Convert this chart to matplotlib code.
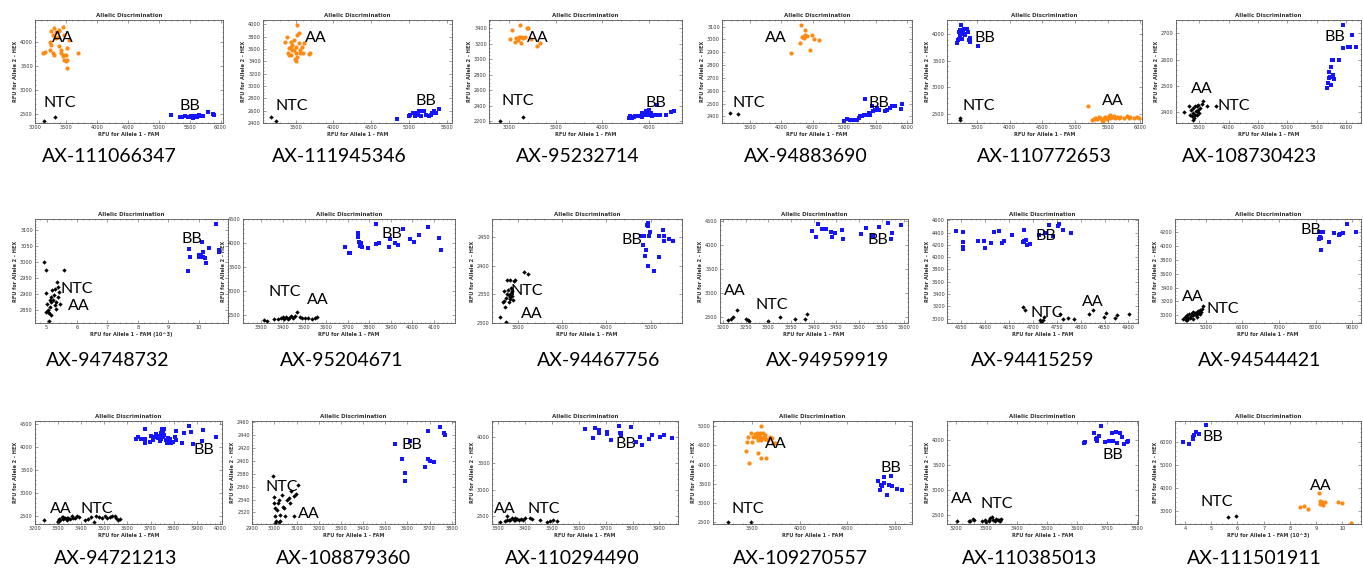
import matplotlib.pyplot as plt
import numpy as np

plt.rcParams['font.family'] = ['Lato', 'DejaVu Sans']

# SNP marker names, row by row
markers = ["AX-111066347", "AX-111945346", "AX-95232714", "AX-94883690", "AX-110772653", "AX-108730423",
           "AX-94748732", "AX-95204671", "AX-94467756", "AX-94959919", "AX-94415259", "AX-94544421",
           "AX-94721213", "AX-108879360", "AX-110294490", "AX-109270557", "AX-110385013", "AX-111501911"]

# (FAM, HEX) readings, estimated from the plots
p01_aa = [(3130, 3760), (3160, 3790), (3260, 4210), (3290, 4140), (3310, 4280), (3340, 4190), (3370, 4100), (3390, 4240),
          (3240, 4000), (3260, 3930), (3240, 3830), (3290, 3760), (3310, 3720), (3340, 4070), (3390, 3900), (3420, 3830),
          (3420, 3760), (3450, 4310), (3470, 4140), (3470, 3720), (3500, 3720), (3520, 3860), (3520, 3620), (3450, 3690),
          (3470, 3620), (3500, 3590), (3520, 3450), (3690, 3770), (3550, 4030), (3390, 4210)]
p01_bb = [(5200, 2480), (5350, 2440), (5380, 2430), (5420, 2450), (5470, 2440), (5500, 2430), (5530, 2460), (5560, 2420),
          (5590, 2450), (5620, 2440), (5650, 2470), (5690, 2450), (5720, 2460), (5800, 2540), (5880, 2500), (5890, 2480)]
p01_blk = [(3150, 2340), (3320, 2440)]

p02_aa = [(3362, 3719), (3392, 3789), (3414, 3610), (3435, 3638), (3457, 3583), (3405, 3529), (3435, 3502), (3478, 3583),
          (3500, 3638), (3500, 3529), (3491, 3432), (3500, 3405), (3522, 3827), (3522, 3989), (3543, 3854), (3543, 3692),
          (3565, 3583), (3565, 3540), (3586, 3638), (3608, 3692), (3595, 3540), (3694, 3540), (3672, 3518), (3414, 3502),
          (3522, 3475), (3457, 3665), (3435, 3719), (3478, 3746)]
p02_bb = [(4836, 2465), (5000, 2508), (5017, 2535), (5052, 2562), (5073, 2519), (5095, 2562), (5138, 2589), (5160, 2508),
          (5181, 2589), (5203, 2589), (5267, 2508), (5289, 2535), (5310, 2562), (5332, 2589), (5353, 2562), (5396, 2627),
          (5224, 2535), (5116, 2535)]
p02_blk = [(3177, 2497), (3241, 2427)]

p03_aa = [(3007, 3259), (3036, 3379), (3061, 3229), (3079, 3272), (3097, 3250), (3108, 3284), (3122, 3443), (3133, 3284),
          (3133, 3207), (3151, 3272), (3169, 3293), (3187, 3400), (3205, 3400), (3331, 3216), (3302, 3173), (3230, 3259)]
p03_bb = [(4285, 2243), (4303, 2264), (4321, 2243), (4339, 2256), (4357, 2264), (4393, 2273), (4429, 2256), (4440, 2286),
          (4465, 2277), (4483, 2307), (4501, 2286), (4501, 2341), (4519, 2307), (4537, 2264), (4573, 2286), (4591, 2414),
          (4620, 2286), (4681, 2286), (4735, 2316), (4771, 2328), (4465, 2328), (4429, 2307), (4537, 2286)]
p03_blk = [(2899, 2200), (3144, 2256)]

p04_aa = [(4156, 2893), (4304, 2970), (4315, 3113), (4331, 3022), (4357, 3027), (4368, 3009), (4383, 3074), (4383, 3035),
          (4410, 3027), (4452, 2919), (4489, 3035), (4526, 3002), (4595, 2996)]
p04_bb = [(5002, 2361), (5045, 2379), (5087, 2374), (5124, 2369), (5161, 2369), (5203, 2374), (5230, 2387), (5256, 2400),
          (5283, 2400), (5309, 2413), (5336, 2537), (5362, 2413), (5389, 2426), (5415, 2413), (5441, 2478), (5457, 2439),
          (5494, 2452), (5521, 2465), (5547, 2452), (5653, 2439), (5679, 2447), (5722, 2465), (5759, 2483), (5812, 2478),
          (5902, 2457), (5918, 2496)]
p04_blk = [(3183, 2426), (3315, 2418)]

p05_aa = [(5194, 2644), (5260, 2394), (5286, 2406), (5311, 2425), (5337, 2406), (5362, 2444), (5388, 2425), (5413, 2394),
          (5439, 2425), (5464, 2444), (5490, 2406), (5515, 2456), (5540, 2425), (5566, 2444), (5592, 2469), (5617, 2425),
          (5643, 2444), (5668, 2425), (5694, 2444), (5745, 2425), (5796, 2456), (5821, 2425), (5847, 2444), (5898, 2425),
          (5949, 2444), (5974, 2425), (5429, 2363), (5531, 2488)]
p05_bb = [(3194, 3831), (3204, 3894), (3219, 4050), (3235, 4081), (3255, 4175), (3270, 3906), (3286, 4019), (3306, 4006),
          (3321, 3988), (3347, 4094), (3357, 4050), (3372, 3894), (3388, 3925), (3398, 3863), (3510, 3781), (3219, 3906),
          (3245, 3988), (3296, 4094)]
p05_blk = [(3235, 2425), (3235, 2394)]

p06_bb = [(5673, 2491), (5690, 2510), (5707, 2529), (5718, 2551), (5730, 2533), (5747, 2573), (5764, 2599), (5747, 2504),
          (5775, 2542), (5786, 2599), (5803, 2525), (5888, 2599), (5956, 2643), (5956, 2732), (6030, 2649), (6070, 2649),
          (6104, 2694), (6172, 2649)]
p06_blk = [(3240, 2400), (3330, 2424), (3342, 2390), (3353, 2409), (3370, 2384), (3387, 2415), (3398, 2396), (3409, 2377),
           (3426, 2424), (3443, 2403), (3455, 2390), (3466, 2422), (3483, 2409), (3500, 2396), (3511, 2415), (3540, 2432),
           (3568, 2441), (3625, 2424), (3783, 2424), (3398, 2368), (3455, 2403), (3426, 2390), (3483, 2428)]

p07_bb = [(9.64, 2974), (9.69, 3041), (9.72, 3018), (10.00, 3016), (10.08, 3020), (10.11, 3065), (10.13, 3034), (10.15, 3016),
          (10.19, 3013), (10.24, 2997), (10.33, 3044), (10.55, 3121), (10.66, 3039), (10.68, 3031), (10.02, 3023)]
p07_blk = [(4.91, 3000), (4.97, 2976), (4.99, 2905), (5.02, 2871), (5.05, 2845), (5.08, 2840), (5.10, 2861), (5.13, 2876),
           (5.16, 2892), (5.19, 2913), (5.21, 2882), (5.23, 2897), (5.27, 2918), (5.30, 2855), (5.32, 2876), (5.34, 2939),
           (5.38, 2924), (5.41, 2908), (5.43, 2871), (5.08, 2816), (4.99, 2845), (5.16, 2834), (5.56, 2976), (5.27, 2866),
           (5.38, 2892), (5.10, 2882), (5.05, 2852)]

p08_bb = [(3687, 3909), (3706, 3796), (3709, 3782), (3746, 4120), (3750, 4204), (3754, 4028), (3757, 3937), (3766, 3909),
          (3793, 3888), (3829, 3979), (3832, 4401), (3845, 3993), (3892, 3909), (3919, 3993), (3935, 3951), (3958, 4289),
          (3987, 4078), (4009, 4028), (4029, 4169), (4072, 4331), (4125, 4099), (4132, 3852), (3761, 4007), (3895, 4078)]
p08_blk = [(3313, 2394), (3328, 2366), (3360, 2416), (3376, 2416), (3391, 2437), (3404, 2416), (3415, 2451), (3426, 2437),
           (3439, 2465), (3446, 2437), (3457, 2465), (3467, 2549), (3478, 2451), (3489, 2437), (3502, 2437), (3517, 2437),
           (3533, 2416), (3549, 2437), (3557, 2451), (3423, 2416), (3399, 2451)]

p09_bb = [(4902, 2452), (4914, 2436), (4940, 2416), (4951, 2427), (4959, 2470), (4966, 2468), (4966, 2399), (4970, 2474),
          (4978, 2451), (4996, 2459), (5034, 2390), (5090, 2451), (5094, 2414), (5139, 2462), (5147, 2442), (5147, 2452),
          (5203, 2446), (5252, 2442), (4929, 2452)]
p09_blk = [(3304, 2310), (3335, 2337), (3350, 2339), (3361, 2327), (3372, 2344), (3380, 2374), (3387, 2358), (3398, 2349),
           (3410, 2342), (3417, 2346), (3425, 2352), (3436, 2356), (3447, 2340), (3372, 2302), (3350, 2356), (3398, 2337),
           (3425, 2361), (3455, 2373), (3474, 2374), (3575, 2389), (3613, 2385), (3410, 2374), (3380, 2350), (3436, 2347)]

p10_bb = [(3397, 4287), (3406, 4167), (3409, 4429), (3419, 4337), (3428, 4323), (3439, 4266), (3441, 4167), (3446, 4252),
          (3463, 4309), (3465, 4124), (3505, 4216), (3515, 4358), (3544, 4379), (3564, 4450), (3571, 4124), (3573, 4237),
          (3593, 4408), (3531, 4181)]
p10_blk = [(3211, 2443), (3218, 2465), (3222, 2493), (3231, 2635), (3251, 2465), (3255, 2443), (3257, 2408), (3299, 2422),
           (3326, 2493), (3358, 2465), (3380, 2465), (3384, 2550)]

p11_bb = [(4539, 4420), (4553, 4403), (4553, 4240), (4553, 4174), (4553, 4130), (4584, 4272), (4597, 4256), (4600, 4158),
          (4612, 4229), (4619, 4409), (4628, 4431), (4635, 4229), (4640, 4256), (4656, 4365), (4681, 4436), (4680, 4240),
          (4686, 4283), (4687, 4201), (4694, 4218), (4713, 4365), (4725, 4393), (4734, 4529), (4741, 4349), (4753, 4513),
          (4755, 4545), (4763, 4436), (4779, 4393), (4681, 4256)]
p11_blk = [(4683, 3137), (4715, 2984), (4716, 2945), (4723, 3027), (4757, 3082), (4762, 3000), (4774, 3016), (4786, 3000),
           (4818, 3082), (4826, 3147), (4848, 3027), (4853, 3093), (4871, 3016), (4875, 3055), (4901, 3071), (4720, 2973),
           (4680, 3191)]

p12_bb = [(8109, 4200), (8109, 4102), (8127, 4132), (8154, 4117), (8154, 3946), (8218, 4200), (8363, 4068), (8518, 4190),
          (8636, 4166), (8673, 4180), (8745, 4190), (8855, 4327), (9109, 4200)]
p12_blk = [(4382, 2951), (4427, 2976), (4455, 2937), (4473, 3000), (4518, 2966), (4545, 3024), (4582, 2985), (4609, 3034),
           (4636, 3000), (4655, 3049), (4673, 3015), (4700, 3034), (4727, 3000), (4745, 3049), (4764, 3024), (4791, 3063),
           (4818, 3034), (4836, 3073), (4855, 3049), (4882, 3098), (4909, 3132), (4655, 2951), (4564, 2966), (4473, 2927),
           (4745, 2976), (4836, 3024)]

p13_bb = [(3638, 4176), (3645, 4233), (3660, 4176), (3674, 4089), (3674, 4392), (3678, 4176), (3696, 4125), (3703, 4248),
          (3710, 4161), (3717, 4233), (3724, 4291), (3732, 4197), (3739, 4248), (3742, 4147), (3746, 4320), (3750, 4392),
          (3753, 4233), (3760, 4269), (3760, 4392), (3768, 4161), (3771, 4089), (3775, 4197), (3779, 4147), (3782, 4125),
          (3785, 4176), (3789, 4089), (3796, 4125), (3804, 4233), (3811, 4161), (3811, 4363), (3837, 4089), (3847, 4320),
          (3866, 4464), (3876, 4341), (3886, 4075), (3923, 4147), (3929, 4377), (3984, 4233), (3756, 4320), (3746, 4176)]
p13_blk = [(3238, 2413), (3300, 2370), (3304, 2442), (3307, 2413), (3314, 2486), (3322, 2442), (3329, 2464), (3336, 2428),
           (3343, 2464), (3350, 2442), (3358, 2500), (3365, 2464), (3372, 2464), (3382, 2514), (3391, 2486), (3415, 2413),
           (3430, 2442), (3444, 2486), (3454, 2370), (3465, 2514), (3477, 2486), (3491, 2464), (3501, 2500), (3512, 2464),
           (3523, 2486), (3535, 2514), (3545, 2500), (3552, 2464), (3559, 2428), (3566, 2442), (3300, 2392), (3319, 2478),
           (3336, 2464)]

p14_bb = [(3545, 2426), (3575, 2403), (3590, 2382), (3590, 2369), (3613, 2431), (3680, 2391), (3691, 2447), (3692, 2403),
          (3700, 2400), (3748, 2452), (3766, 2443), (3770, 2441), (3718, 2398)]
p14_blk = [(2994, 2377), (2997, 2344), (3000, 2334), (3005, 2314), (3005, 2327), (3009, 2306), (3012, 2323), (3015, 2334),
           (3020, 2339), (3024, 2316), (3027, 2306), (3035, 2347), (3039, 2329), (3045, 2327), (3050, 2315), (3057, 2339),
           (3065, 2342), (3072, 2334), (3075, 2353), (3087, 2345), (3099, 2349), (3087, 2315), (3105, 2362), (3005, 2304),
           (3020, 2305)]

p15_bb = [(3624, 4152), (3654, 3981), (3661, 4171), (3677, 4140), (3677, 4089), (3704, 4108), (3704, 4064), (3720, 3949),
          (3751, 4216), (3753, 4089), (3757, 4025), (3759, 4089), (3793, 4191), (3813, 3917), (3827, 4000), (3834, 3854),
          (3862, 3962), (3871, 4044), (3901, 4013), (3916, 4044), (3948, 3981), (3677, 4127), (3756, 4064)]
p15_blk = [(3309, 2373), (3327, 2392), (3333, 2411), (3343, 2424), (3352, 2456), (3358, 2411), (3364, 2456), (3370, 2437),
           (3377, 2424), (3385, 2437), (3393, 2424), (3401, 2456), (3420, 2456), (3426, 2437), (3457, 2424), (3482, 2373),
           (3494, 2392), (3506, 2411), (3519, 2392), (3333, 2500), (3346, 2411), (3364, 2424)]

p16_aa = [(3437, 4362), (3444, 4595), (3454, 4707), (3465, 4035), (3489, 4810), (3500, 4595), (3507, 4724), (3525, 4793),
          (3535, 4767), (3542, 4724), (3549, 4828), (3560, 4310), (3570, 4767), (3577, 4724), (3584, 4810), (3595, 5000),
          (3595, 4164), (3606, 4681), (3613, 4828), (3620, 4724), (3630, 4767), (3641, 4164), (3648, 4655), (3665, 4638),
          (3683, 4724), (3701, 4681), (3718, 4552), (3736, 4569), (3560, 4638), (3595, 4638), (3630, 4655)]
p16_bb = [(4827, 3560), (4838, 3345), (4852, 3474), (4862, 3431), (4880, 3672), (4887, 3517), (4922, 3216), (4933, 3474),
          (4957, 3707), (4968, 3431), (5021, 3362), (5074, 3328)]
p16_blk = [(3243, 2500), (3489, 2500)]

p17_bb = [(3623, 3947), (3626, 3967), (3656, 4133), (3662, 4013), (3665, 3987), (3673, 4080), (3678, 4280), (3692, 3967),
          (3706, 3987), (3717, 4147), (3720, 3987), (3728, 4160), (3733, 3933), (3744, 4147), (3750, 4053), (3755, 3920),
          (3766, 3967), (3769, 3987), (3665, 4033)]
p17_blk = [(3202, 2380), (3241, 2380), (3246, 2367), (3255, 2413), (3259, 2400), (3285, 2367), (3296, 2387), (3299, 2347),
           (3307, 2400), (3312, 2433), (3318, 2447), (3329, 2380), (3332, 2413), (3337, 2387), (3340, 2400), (3343, 2380),
           (3345, 2400), (3348, 2413), (3307, 2367), (3323, 2387)]

p18_aa = [(8.37, 3180), (8.52, 3240), (8.68, 3090), (9.10, 3810), (9.13, 3450), (9.15, 3300), (9.23, 3405), (9.28, 3255),
          (9.32, 3405), (9.82, 3405), (9.99, 3360), (10.33, 2505)]
p18_bb = [(3.94, 6000), (4.16, 5880), (4.29, 6180), (4.34, 6300), (4.42, 6405), (4.54, 6330), (4.80, 6705), (4.29, 6105)]
p18_blk = [(5.65, 2760), (5.94, 2790)]

# axis ranges and ticks per panel
xlims = [(3000, 6040), (3069, 5569), (2784, 4857), (3061, 6079), (3041, 6026), (3104, 6255),
         (4.62, 10.96), (3215, 4197), (3211, 5353), (3193, 3608), (4520, 4920), (4155, 9245),
         (3199, 4010), (2899, 3815), (3278, 3969), (3085, 5180), (3169, 3802), (3.62, 10.71)]
ylims = [(2306, 4449), (2400, 4070), (2179, 3507), (2348, 3152), (2331, 4269), (2358, 2751),
         (2810, 3136), (2324, 4500), (2300, 2481), (2372, 4535), (2929, 4622), (2888, 4395),
         (2334, 4572), (2302, 2462), (2344, 4311), (2457, 5129), (2315, 4380), (2460, 6885)]
xsteps = [500, 500, 500, 500, 500, 500, 1, 100, 500, 50, 50, 1000, 100, 100, 100, 500, 100, 1]
ysteps = [500, 200, 200, 100, 500, 100, 50, 500, 50, 500, 200, 200, 500, 20, 500, 500, 500, 1000]

# genotype label positions (data coords)
calls = [
    [("AA", 3450, 4070), ("NTC", 3395, 2722), ("BB", 5500, 2650)],
    [("AA", 3767, 3773), ("NTC", 3448, 2681), ("BB", 5224, 2751)],
    [("AA", 3313, 3272), ("NTC", 3097, 2457), ("BB", 4573, 2435)],
    [("AA", 3923, 3009), ("NTC", 3484, 2504), ("BB", 5547, 2504)],
    [("BB", 3628, 3938), ("NTC", 3526, 2656), ("AA", 5581, 2738)],
    [("BB", 5803, 2685), ("AA", 3540, 2487), ("NTC", 4094, 2424)],
    [("BB", 9.78, 3073), ("NTC", 6.0, 2918), ("AA", 6.07, 2863)],
    [("BB", 3903, 4190), ("NTC", 3407, 2979), ("AA", 3561, 2803)],
    [("BB", 4789, 2445), ("NTC", 3605, 2356), ("AA", 3662, 2315)],
    [("BB", 3541, 4096), ("AA", 3226, 3032), ("NTC", 3307, 2748)],
    [("BB", 4727, 4338), ("NTC", 4729, 3093), ("AA", 4826, 3273)],
    [("BB", 7882, 4239), ("AA", 4655, 3268), ("NTC", 5455, 3098)],
    [("BB", 3933, 3945), ("AA", 3310, 2659), ("NTC", 3465, 2659)],
    [("BB", 3620, 2425), ("NTC", 3035, 2360), ("AA", 3155, 2318)],
    [("BB", 3775, 3873), ("AA", 3327, 2627), ("NTC", 3472, 2627)],
    [("AA", 3746, 4534), ("BB", 4957, 3905), ("NTC", 3454, 2845)],
    [("BB", 3720, 3700), ("AA", 3219, 2813), ("NTC", 3334, 2720)],
    [("BB", 5.08, 6180), ("NTC", 5.20, 3405), ("AA", 9.19, 4110)],
]

groups = [
    (p01_aa, p01_bb, p01_blk), (p02_aa, p02_bb, p02_blk), (p03_aa, p03_bb, p03_blk),
    (p04_aa, p04_bb, p04_blk), (p05_aa, p05_bb, p05_blk), ([], p06_bb, p06_blk),
    ([], p07_bb, p07_blk), ([], p08_bb, p08_blk), ([], p09_bb, p09_blk),
    ([], p10_bb, p10_blk), ([], p11_bb, p11_blk), ([], p12_bb, p12_blk),
    ([], p13_bb, p13_blk), ([], p14_bb, p14_blk), ([], p15_bb, p15_blk),
    (p16_aa, p16_bb, p16_blk), ([], p17_bb, p17_blk), (p18_aa, p18_bb, p18_blk),
]

# frame boxes in pixels (left, right) per column, (top, bottom) per row
W, H = 1363, 569
cols = [[(35, 223), (263, 452), (489, 682), (722, 912), (947, 1142), (1176, 1361)],
        [(35, 228), (243, 455), (492, 682), (720, 908), (947, 1138), (1175, 1361)],
        [(35, 222), (252, 455), (492, 678), (713, 912), (947, 1138), (1175, 1361)]]
rows = [(20, 123), (219, 323), (421, 524)]
name_x = [[109, 339, 578, 806, 1044, 1249],
          [108, 342, 599, 828, 1033, 1260],
          [116, 344, 572, 800, 1030, 1254]]
name_y = [157, 360, 558]

fig = plt.figure(figsize=(W / 100, H / 100), dpi=100)

for i in range(18):
    r, c = divmod(i, 6)
    x0, x1 = cols[r][c]
    top, bot = rows[r]
    ax = fig.add_axes([x0 / W, 1 - bot / H, (x1 - x0) / W, (bot - top) / H])

    aa, bb, blk = groups[i]
    if aa:
        a = np.array(aa)
        ax.scatter(a[:, 0], a[:, 1], s=9, marker='o', color='#ff8a12', linewidths=0)
    b = np.array(bb)
    ax.scatter(b[:, 0], b[:, 1], s=11, marker='s', color='#1414ff', linewidths=0)
    k = np.array(blk)
    ax.scatter(k[:, 0], k[:, 1], s=5, marker='D', color='black', linewidths=0)

    for txt, tx, ty in calls[i]:
        ax.text(tx, ty, txt, fontsize=11.5, ha='center', va='center', color='black')

    ax.set_xlim(*xlims[i])
    ax.set_ylim(*ylims[i])
    xs = xsteps[i]
    ys = ysteps[i]
    ax.set_xticks(np.arange(np.ceil(xlims[i][0] / xs) * xs, xlims[i][1] + 1e-9, xs))
    ax.set_yticks(np.arange(np.ceil(ylims[i][0] / ys) * ys, ylims[i][1] + 1e-9, ys))
    ax.minorticks_on()
    ax.tick_params(which='both', direction='in', top=True, right=True, labelsize=3.6,
                   labelcolor='#333333', color='#555555', width=0.4, pad=1.5)
    ax.tick_params(which='major', length=2)
    ax.tick_params(which='minor', length=1)
    for sp in ax.spines.values():
        sp.set_color('#555555')
        sp.set_linewidth(0.6)

    ax.set_title("Allelic Discrimination", fontsize=4, fontweight='bold', color='#333333',
                 pad=2, family='DejaVu Sans')
    xl = "RFU for Allele 1 - FAM (10^3)" if i in (6, 17) else "RFU for Allele 1 - FAM"
    ax.set_xlabel(xl, fontsize=3.6, fontweight='bold', color='#333333', labelpad=1.5, family='DejaVu Sans')
    ax.set_ylabel("RFU for Allele 2 - HEX", fontsize=3.6, fontweight='bold', color='#333333',
                  labelpad=1.5, family='DejaVu Sans')
    for lab in ax.get_xticklabels() + ax.get_yticklabels():
        lab.set_family('DejaVu Sans')

    fig.text(name_x[r][c] / W, 1 - name_y[r] / H, markers[i], fontsize=14, ha='center', va='center')

fig.savefig("out.png", dpi=100)
